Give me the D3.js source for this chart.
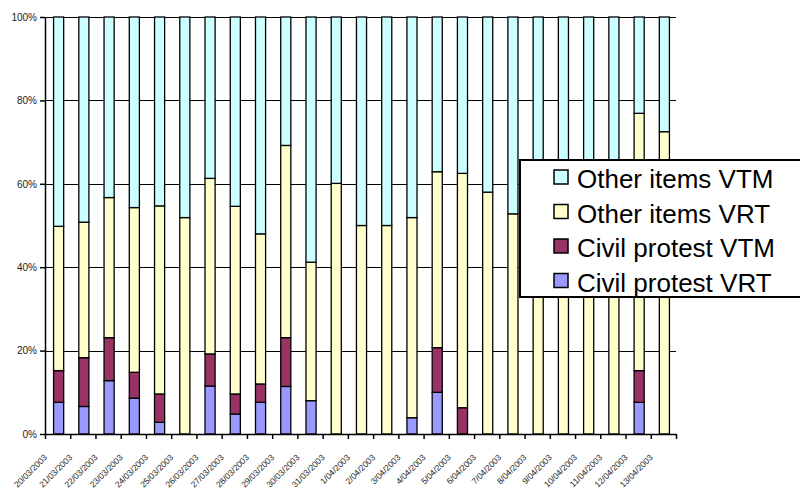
<!DOCTYPE html>
<html lang="en">
<head>
  <meta charset="UTF-8">
  <title>Civil protest share</title>
  <script src="https://cdn.jsdelivr.net/npm/d3@7"></script>
  <style>
    body { margin: 0; background: #fff; }
    svg { display: block; font-family: Arial, "Liberation Sans", sans-serif; }
  </style>
</head>
<body>
<svg></svg>
<script>
  const width = 800, height = 491
  const margin = {top: 17, right: 124, bottom: 57, left: 45}

  // categories
  const dates = ['20/03/2003', '21/03/2003', '22/03/2003', '23/03/2003', '24/03/2003', '25/03/2003',
    '26/03/2003', '27/03/2003', '28/03/2003', '29/03/2003', '30/03/2003', '31/03/2003',
    '1/04/2003', '2/04/2003', '3/04/2003', '4/04/2003', '5/04/2003', '6/04/2003', '7/04/2003',
    '8/04/2003', '9/04/2003', '10/04/2003', '11/04/2003', '12/04/2003', '13/04/2003']

  // series values (share in %, stacked bottom to top)
  const civilVRT = [7.6, 6.6, 12.8, 8.6, 2.8, 0, 11.5, 4.8, 7.6, 11.4, 8.0, 0,
    0, 0, 3.9, 10.0, 0, 0, 0, 0, 0, 0, 0, 7.6, 0]
  const civilVTM = [7.6, 11.7, 10.3, 6.2, 6.8, 0, 7.7, 4.8, 4.4, 11.7, 0, 0,
    0, 0, 0, 10.7, 6.3, 0, 0, 0, 0, 0, 0, 7.6, 0]
  const otherVRT = [34.6, 32.5, 33.6, 39.5, 45.1, 51.9, 42.1, 45.0, 36.0, 46.1, 33.2, 60.1,
    50.0, 50.0, 48.0, 42.2, 56.2, 58.0, 52.8, 50, 45, 55, 50, 61.7, 72.5]
  const otherVTM = [50.2, 49.2, 43.3, 45.7, 45.3, 48.1, 38.7, 45.4, 52.0, 30.8, 58.8, 39.9,
    50.0, 50.0, 48.1, 37.1, 37.5, 42.0, 47.2, 50, 55, 45, 50, 23.1, 27.5]

  const seriesNames = ['Civil protest VRT', 'Civil protest VTM', 'Other items VRT', 'Other items VTM']
  const seriesColors = ['#9999ff', '#993366', '#ffffcc', '#ccffff']
  const yTicks = [0, 0.2, 0.4, 0.6, 0.8, 1]

  const table = dates.map((d, i) => ({
    date: d,
    'Civil protest VRT': civilVRT[i],
    'Civil protest VTM': civilVTM[i],
    'Other items VRT': otherVRT[i],
    'Other items VTM': otherVTM[i]
  }))

  const svg = d3.select('svg')
      .attr('width', width)
      .attr('height', height)
      .attr('viewBox', [0, 0, width, height])

  const x = d3.scaleBand()
      .domain(dates)
      .range([margin.left + 1, width - margin.right + 1])
      .paddingInner(0.6)
      .paddingOuter(0.3)

  // linear index scale for the boundary tick marks
  const xi = d3.scaleLinear()
      .domain([0, dates.length])
      .range([margin.left, width - margin.right])

  const y = d3.scaleLinear()
      .domain([0, 1])
      .range([height - margin.bottom, margin.top])

  const stack = d3.stack()
      .keys(seriesNames)
      .offset(d3.stackOffsetExpand)
  const series = stack(table)

  // gridlines
  svg.append('g')
      .selectAll('line')
      .data(yTicks.slice(1))
      .join('line')
      .attr('x1', margin.left)
      .attr('x2', width - margin.right)
      .attr('y1', d => Math.round(y(d)) + 0.5)
      .attr('y2', d => Math.round(y(d)) + 0.5)
      .attr('stroke', '#000')
      .attr('stroke-width', 1)

  // bars
  svg.append('g')
      .selectAll('g')
      .data(series)
      .join('g')
      .attr('fill', (d, i) => seriesColors[i])
      .selectAll('rect')
      .data(d => d.filter(s => s[1] - s[0] > 0))
      .join('rect')
      .attr('x', d => x(d.data.date))
      .attr('y', d => y(d[1]))
      .attr('width', x.bandwidth())
      .attr('height', d => y(d[0]) - y(d[1]))
      .attr('stroke', '#000')
      .attr('stroke-width', 1.3)

  // y axis
  const yAxis = svg.append('g')
      .attr('transform', `translate(${margin.left},0)`)
      .call(d3.axisLeft(y).tickValues(yTicks).tickFormat(d3.format('.0%')).tickSize(5).tickPadding(3).tickSizeOuter(0))
  yAxis.select('.domain').attr('stroke', '#000').attr('stroke-width', 1.5)
  yAxis.selectAll('.tick line').attr('stroke', '#000').attr('stroke-width', 1.5)
  yAxis.selectAll('.tick text')
      .attr('font-size', 10)
      .attr('font-family', 'Arial, "Liberation Sans", sans-serif')
      .attr('fill', '#222')

  // x axis
  const xAxis = svg.append('g')
      .attr('transform', `translate(0,${height - margin.bottom})`)
      .call(d3.axisBottom(xi).ticks(dates.length).tickFormat('').tickSize(5).tickSizeOuter(0))
  xAxis.select('.domain').attr('stroke', '#000').attr('stroke-width', 1.5)
  xAxis.selectAll('.tick line').attr('stroke', '#000').attr('stroke-width', 1.5)

  svg.append('g')
      .selectAll('text')
      .data(dates)
      .join('text')
      .attr('transform', d => `translate(${x(d) + x.bandwidth() / 2 - 11},${height - margin.bottom + 24}) rotate(-45)`)
      .attr('text-anchor', 'end')
      .attr('font-size', 8.5)
      .attr('fill', '#222')
      .text(d => d)

  // legend (top to bottom in reverse stack order)
  const legend = svg.append('g')
      .attr('transform', 'translate(520,160)')

  legend.append('rect')
      .attr('x', 0)
      .attr('y', 0)
      .attr('width', 300)
      .attr('height', 137)
      .attr('fill', '#fff')
      .attr('stroke', '#000')
      .attr('stroke-width', 2)

  const legendItems = legend.selectAll('g.item')
      .data(seriesNames.slice().reverse())
      .join('g')
      .attr('class', 'item')
      .attr('transform', (d, i) => `translate(34,${10 + i * 34.5})`)

  legendItems.append('rect')
      .attr('width', 14)
      .attr('height', 14)
      .attr('fill', d => seriesColors[seriesNames.indexOf(d)])
      .attr('stroke', '#000')
      .attr('stroke-width', 1.5)

  legendItems.append('text')
      .attr('x', 23)
      .attr('y', 18)
      .attr('font-size', 26)
      .attr('fill', '#000')
      .text(d => d)
</script>
</body>
</html>
